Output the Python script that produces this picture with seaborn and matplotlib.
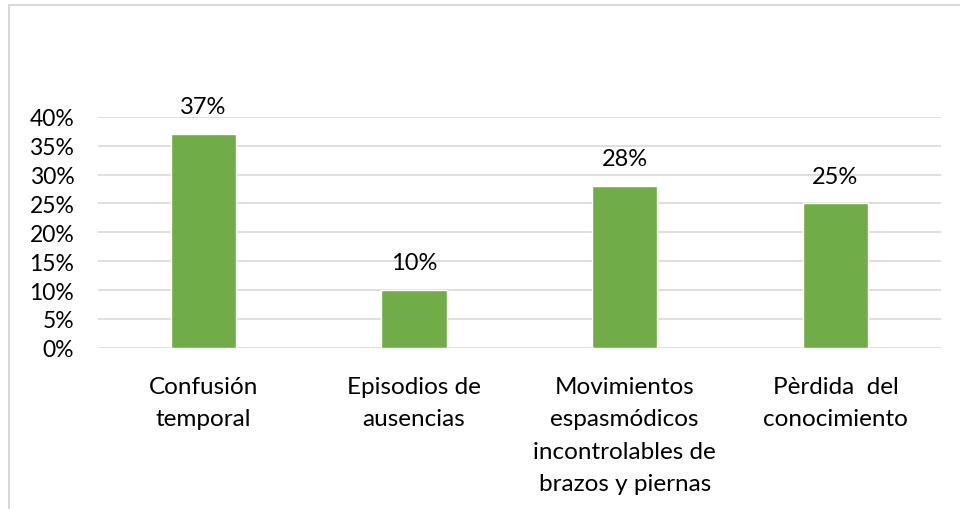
import numpy as np
import pandas as pd
import seaborn as sns
import matplotlib.pyplot as plt
from matplotlib.lines import Line2D
from matplotlib.ticker import PercentFormatter

# datos del grafico
categorias = ["Confusión\ntemporal", "Episodios de\nausencias",
              "Movimientos\nespasmódicos\nincontrolables de\nbrazos y piernas",
              "Pèrdida  del\nconocimiento"]
valores = [0.37, 0.10, 0.28, 0.25]
etiquetas = ["37%", "10%", "28%", "25%"]

df = pd.DataFrame({"categoria": categorias, "valor": valores})

sns.set_style("white")
plt.rcParams['font.family'] = ['Lato', 'DejaVu Sans']

fig = plt.figure(figsize=(9.6, 5.1), dpi=100)
ax = fig.add_axes([0.102, 0.316, 0.878, 0.453])

sns.barplot(data=df, x="categoria", y="valor", color="#70AD47",
            saturation=1, width=0.31, ax=ax)

ax.set_ylim(0, 0.40)
ax.set_yticks(np.arange(0, 0.41, 0.05))
ax.yaxis.set_major_formatter(PercentFormatter(1.0, decimals=0))
ax.yaxis.grid(True, color="#D9D9D9", linewidth=1.2)
ax.set_axisbelow(True)
for s in ax.spines.values():
    s.set_visible(False)
ax.set_xlabel("")
ax.set_ylabel("")
ax.tick_params(axis="y", labelsize=16.5, colors="#000000", length=0, pad=17)
ax.tick_params(axis="x", labelsize=17.5, colors="#000000", length=0, pad=20)
for t in ax.get_xticklabels():
    t.set_linespacing(1.68)
ax.set_xlim(-0.5, 3.5)

for p, lab in zip(ax.patches, etiquetas):
    ax.annotate(lab, (p.get_x() + p.get_width() / 2, p.get_height()),
                xytext=(0, 12), textcoords="offset points",
                ha="center", va="bottom", fontsize=17, color="black")

# marco del grafico
fig.add_artist(Line2D([9/960, 1], [1 - 6/510, 1 - 6/510], color="#D9D9D9", lw=1.5))
fig.add_artist(Line2D([9/960, 9/960], [0, 1 - 6/510], color="#D9D9D9", lw=1.5))

fig.savefig("out.png", dpi=100)
